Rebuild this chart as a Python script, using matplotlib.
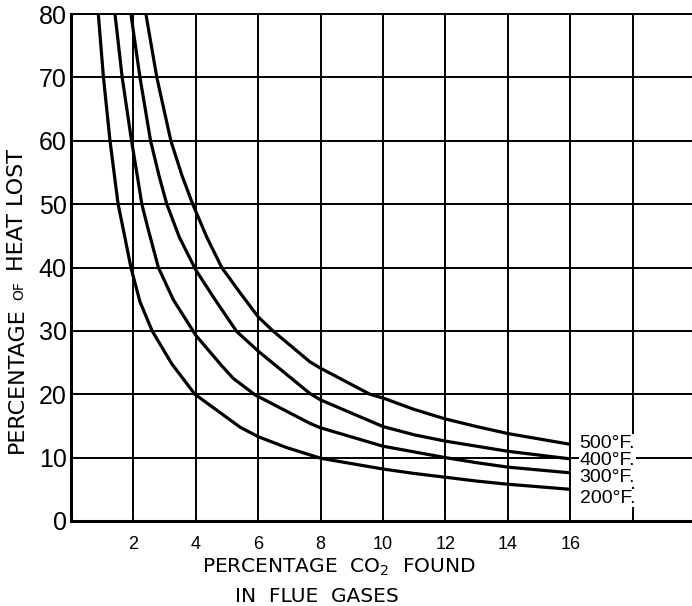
import matplotlib
matplotlib.use("Agg")
import matplotlib.pyplot as plt

# ---- data ----
co2_200 = [0.875, 1.04, 1.25, 1.41, 1.51, 1.68, 1.92, 2.21, 2.6, 3.23, 3.97, 5.42, 6.0, 6.9, 8.0,
           10.0, 11.0, 12.0, 13.0, 14.0, 16.0]
loss_200 = [80, 70, 60, 53.8, 50, 45.9, 40, 34.6, 30, 24.8, 20, 14.8, 13.3, 11.6, 9.9,
            8.2, 7.5, 6.9, 6.3, 5.8, 5.0]

co2_300 = [1.41, 1.64, 1.94, 2.13, 2.27, 2.48, 2.8, 3.28, 4.0, 4.83, 5.2, 5.9, 7.66, 8.0,
           10.0, 11.0, 12.0, 13.0, 14.0, 16.0]
loss_300 = [80, 70, 60, 54.3, 50, 45.9, 40, 34.9, 29.3, 24.5, 22.5, 19.9, 15.4, 14.7,
            11.8, 10.9, 10.0, 9.2, 8.5, 7.6]

co2_400 = [1.92, 2.21, 2.55, 2.83, 3.07, 3.47, 4.0, 4.62, 5.31, 6.0, 7.66, 8.0,
           10.0, 11.0, 12.0, 13.0, 14.0, 16.0]
loss_400 = [80, 70, 60, 54.3, 50, 44.8, 39.6, 34.9, 29.9, 26.8, 20.1, 19.1,
            14.9, 13.6, 12.6, 11.8, 11.0, 9.8]

co2_500 = [2.40, 2.75, 3.2, 3.55, 3.9, 4.35, 4.83, 5.42, 6.0, 6.47, 7.66, 8.0, 9.58,
           10.0, 11.0, 12.0, 13.0, 14.0, 16.0]
loss_500 = [80, 70, 60, 54.6, 50, 44.8, 40, 36.0, 32.2, 30, 25.1, 24.1, 20,
            19.4, 17.6, 16.1, 14.9, 13.8, 12.1]

series = [(co2_200, loss_200), (co2_300, loss_300), (co2_400, loss_400), (co2_500, loss_500)]
temp_labels = ["500°F.", "400°F.", "300°F.", "200°F."]

x_ticks = [2, 4, 6, 8, 10, 12, 14, 16]
x_grid = [2, 4, 6, 8, 10, 12, 14, 16, 18]
y_ticks = [0, 10, 20, 30, 40, 50, 60, 70, 80]

# ---- figure ----
W, H = 692, 606
fig = plt.figure(figsize=(W / 100, H / 100), dpi=100)
ax = fig.add_axes([71 / W, 1 - 521 / H, (W - 71) / W, (521 - 14) / H])
ax.set_xlim(0, 19.9)
ax.set_ylim(0, 80)

for gx in x_grid:
    ax.plot([gx, gx], [0, 80], color="black", lw=1.4, zorder=1, solid_capstyle="butt")
for gy in y_ticks[1:]:
    ax.plot([0, 19.9], [gy, gy], color="black", lw=1.4, zorder=1, clip_on=False)

for xs, ys in series:
    ax.plot(xs, ys, color="black", lw=2.3, zorder=3,
            solid_joinstyle="round", solid_capstyle="butt")

for s in ["top", "right"]:
    ax.spines[s].set_visible(False)
ax.spines["left"].set_linewidth(2.2)
ax.spines["bottom"].set_linewidth(2.2)

ax.set_xticks(x_ticks)
ax.set_xticklabels([str(v) for v in x_ticks], fontsize=13,
                   family=["Liberation Sans", "DejaVu Sans"])
ax.set_yticks(y_ticks)
ax.set_yticklabels([str(v) for v in y_ticks], fontsize=18,
                   family=["Liberation Sans Narrow", "Liberation Sans", "DejaVu Sans"])
ax.tick_params(axis="both", length=0)
ax.tick_params(axis="x", pad=11)
ax.tick_params(axis="y", pad=3)

# temperature labels
label_y = [12.3, 9.5, 6.8, 3.6]
for lab, ly in zip(temp_labels, label_y):
    ax.text(16.3, ly, lab, fontsize=14, va="center", ha="left", zorder=4,
            family=["Liberation Sans", "DejaVu Sans"],
            bbox=dict(fc="white", ec="none", pad=0.3))

# axis labels
lab_font = ["DejaVu Sans"]
fig.text(339 / W, 1 - 567 / H, "PERCENTAGE  CO$_2$  FOUND", ha="center", va="center",
         fontsize=14.5, family=lab_font)
fig.text(317 / W, 1 - 596 / H, "IN  FLUE  GASES", ha="center", va="center",
         fontsize=14.5, family=lab_font)
fig.text(17 / W, 1 - 380 / H, "PERCENTAGE", rotation=90, ha="center", va="center",
         fontsize=16, family=lab_font)
fig.text(19 / W, 1 - 291 / H, "OF", rotation=90, ha="center", va="center",
         fontsize=10, family=lab_font)
fig.text(17 / W, 1 - 210 / H, "HEAT LOST", rotation=90, ha="center", va="center",
         fontsize=16, family=lab_font)

fig.savefig("out.png", dpi=100)
